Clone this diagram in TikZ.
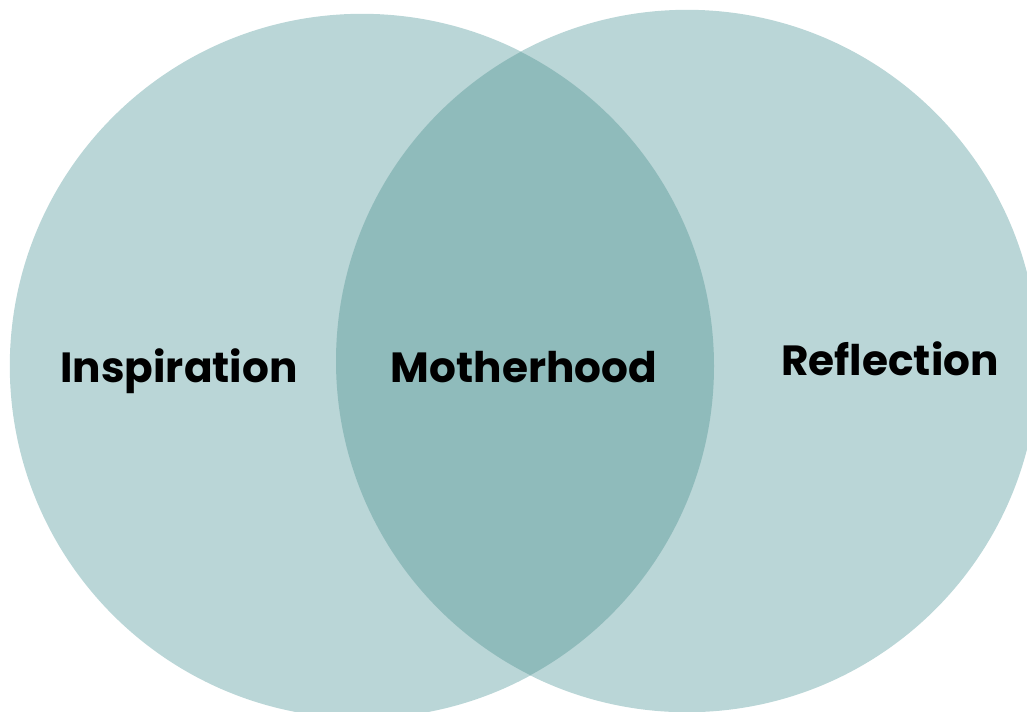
\documentclass[tikz,border=0pt]{standalone}
\usepackage{fontspec}
\setmainfont{Poppins}
\usepackage{tikz}
\usetikzlibrary{positioning}

\definecolor{venn}{HTML}{BAD6D7}
\definecolor{vennmid}{HTML}{8FBBBB}

\begin{document}
\begin{tikzpicture}[
    x=0.01cm, y=-0.01cm,
    set/.style={circle, fill=venn, inner sep=0pt},
    tag/.style={anchor=base, inner sep=0pt,
                font=\fontsize{12}{14}\selectfont\bfseries}
]
  \useasboundingbox (0,0) rectangle (1027,711);
  \clip (0,0) rectangle (1027,711);

  % the two sets
  \node[set, minimum size=7.04cm] (inspo) at (362,366) {};
  \node[set, minimum size=7.02cm] (refl) at (687,361) {};

  % shared part
  \begin{scope}
    \clip (inspo.center) circle[radius=352];
    \fill[vennmid] (refl.center) circle[radius=351];
  \end{scope}

  \node[tag] (insp) at (179,382) {Inspiration};
  \node[tag] (moth) at (524,382) {Motherhood};
  \node[tag] (refln) at (890,375) {Reflection};
\end{tikzpicture}
\end{document}
